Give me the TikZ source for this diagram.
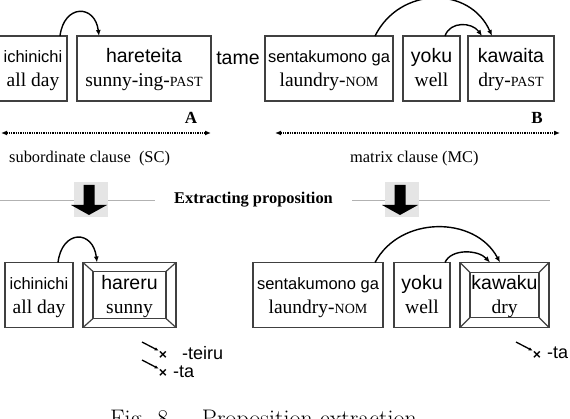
\documentclass[tikz,border=0pt]{standalone}
\usepackage{fontspec}
\usetikzlibrary{arrows.meta,calc}
\newfontfamily\romfont{Liberation Sans}
\newfontfamily\glfont{Liberation Serif}
\newcommand{\gsc}[1]{{\fontsize{14}{14}\selectfont #1}}
\newcommand{\smallrom}[1]{{\fontsize{16.5}{24}\selectfont #1}}
\newcommand{\topstrut}{\rule{0pt}{20pt}}
\newcommand{\botstrut}{\rule[-7pt]{0pt}{7pt}}
% picture frame round a word box: node, x inset, y inset
\newcommand{\bevel}[3]{%
  \draw[wordline] ($(#1.north west)+(#2,-#3)$) rectangle ($(#1.south east)+(-#2,#3)$);
  \draw[wordline] (#1.north west)--($(#1.north west)+(#2,-#3)$) (#1.north east)--($(#1.north east)+(-#2,-#3)$)
    (#1.south west)--($(#1.south west)+(#2,#3)$) (#1.south east)--($(#1.south east)+(-#2,#3)$);}

\begin{document}
\begin{tikzpicture}[x=1pt,y=1pt,>=Latex,
  wordline/.style={draw=black!75,line width=1.2pt},
  word/.style={wordline,inner sep=0pt,outer sep=0pt,minimum height=65pt,align=center,
    font=\romfont\fontsize{19.5}{24}\selectfont},
  link/.style={-{Latex[length=6pt,width=5pt]},line width=1.4pt},
  span/.style={densely dotted,line width=1.3pt,{Latex[length=6pt,width=5pt]}-{Latex[length=6pt,width=5pt]}},
  clause/.style={font=\glfont\fontsize{16.4}{18}\selectfont,anchor=west,inner sep=0pt},
  tag/.style={font=\glfont\bfseries\fontsize{17}{20}\selectfont,inner sep=0pt},
  rule/.style={draw=black!30,line width=0.9pt},
  shadebox/.style={fill=black!10,minimum width=34pt,minimum height=35pt,inner sep=0pt},
  cross/.style={font=\romfont\bfseries\fontsize{14}{14}\selectfont,inner sep=0pt},
  suffix/.style={font=\romfont\fontsize{18}{20}\selectfont,anchor=west,inner sep=0pt},
  tick/.style={-{Latex[length=4pt,width=3.5pt]},line width=1.3pt}]
\useasboundingbox (0,0) rectangle (570,-419);

% sentence with tame
\node[word,minimum width=68pt] (ichi1) at (33,-68.5) {\topstrut\smallrom{ichinichi}\\{\glfont all day}\botstrut};
\node[word,minimum width=134pt] (hare1) at (144,-68.5) {\topstrut hareteita\\{\glfont sunny-ing-\gsc{PAST}}\botstrut};
\node[font=\romfont\fontsize{19.5}{24}\selectfont] (tame) at (238,-58) {tame};
\node[word,minimum width=128pt] (sent1) at (329,-68.5) {\topstrut\smallrom{sentakumono ga}\\{\glfont laundry-\gsc{NOM}}\botstrut};
\node[word,minimum width=57pt] (yoku1) at (431.5,-68.5) {\topstrut yoku\\{\glfont well}\botstrut};
\node[word,minimum width=86pt] (kawa1) at (511,-68.5) {\topstrut kawaita\\{\glfont dry-\gsc{PAST}}\botstrut};
\draw[link] ($(ichi1.north)+(27,0)$) .. controls +(4,32) and +(-4,32) .. ($(hare1.north west)+(22,0)$);
\draw[link] ($(sent1.north)+(46,0)$) .. controls +(25,50) and +(-22,50) .. ($(kawa1.north)+(-19,0)$);
\draw[link] ($(yoku1.north)+(13.5,0)$) .. controls +(5,15) and +(-10,14) .. ($(kawa1.north)+(-29,0)$);

% clauses
\node[tag] (lblA) at (191,-118) {A};
\node[tag] (lblB) at (537,-118) {B};
\coordinate (scL) at (1,-133); \coordinate (scR) at (211,-133);
\coordinate (mcL) at (275,-133); \coordinate (mcR) at (560,-133);
\draw[span] (scL)--(scR);
\draw[span] (mcL)--(mcR);
\node[clause] (sc) at (9,-159) {subordinate clause\enspace(SC)};
\node[clause] (mc) at (350,-159) {matrix clause (MC)};

% extracting proposition
\node[font=\glfont\bfseries\fontsize{16.4}{18}\selectfont,inner xsep=19pt] (extract) at (253.5,-200) {Extracting proposition};
\coordinate (ruleL) at (0,-200); \coordinate (ruleR) at (550,-200);
\draw[rule] (ruleL)--(extract.west) (extract.east)--(ruleR);
\node[shadebox] (shadeL) at (91,-200) {};
\node[shadebox] (shadeR) at (402,-200) {};
\coordinate (downL) at (89,-185); \coordinate (downR) at (400,-185);
\fill (downL) ++(-5.5,0) -- ++(11,0) -- ++(0,-20) -- ++(12.5,0) -- ++(-18,-10) -- ++(-18,10) -- ++(12.5,0) -- cycle;
\fill (downR) ++(-5.5,0) -- ++(11,0) -- ++(0,-20) -- ++(12.5,0) -- ++(-18,-10) -- ++(-18,10) -- ++(12.5,0) -- cycle;

% propositions
\node[word,minimum width=68pt] (ichi2) at (39,-295) {\topstrut\smallrom{ichinichi}\\{\glfont all day}\botstrut};
\node[word,minimum width=93pt] (hare2) at (129.5,-295) {\topstrut hareru\\{\glfont sunny}\botstrut};
\bevel{hare2}{10}{9}
\node[word,minimum width=130pt] (sent2) at (318,-295) {\topstrut\smallrom{sentakumono ga}\\{\glfont laundry-\gsc{NOM}}\botstrut};
\node[word,minimum width=56pt] (yoku2) at (422,-295) {\topstrut yoku\\{\glfont well}\botstrut};
\node[word,minimum width=89pt] (kawa2) at (504.5,-295) {\topstrut kawaku\\{\glfont dry}\botstrut};
\bevel{kawa2}{10}{10}
\draw[link] ($(ichi2.north)+(19,0)$) .. controls +(4,33) and +(-4,33) .. ($(hare2.north west)+(14,0)$);
\draw[link] ($(sent2.north)+(57,0)$) .. controls +(25,47) and +(-25,47) .. ($(kawa2.north)+(-4.5,0)$);
\draw[link] ($(yoku2.north)+(23,0)$) .. controls +(6,14) and +(-12,13) .. ($(kawa2.north)+(-14.5,0)$);

% impossible suffixes
\node[cross] (x1) at (163,-355) {×};
\node[cross] (x2) at (163,-373) {×};
\node[cross] (x3) at (537,-355) {×};
\node[suffix] (teiru) at (182,-353) {-teiru};
\node[suffix] (ta1) at (173,-372) {-ta};
\node[suffix] (ta2) at (547,-353) {-ta};
\coordinate (t1) at (142,-342); \coordinate (t2) at (142,-360); \coordinate (t3) at (516,-342);
\draw[tick] (t1)--(x1.north west);
\draw[tick] (t2)--(x2.north west);
\draw[tick] (t3)--(x3.north west);

\node[font=\fontsize{24}{28}\selectfont,anchor=base west,inner sep=0pt] (cap) at (110,-426) {Fig. 8\hspace{1.4em}Proposition extraction};
\end{tikzpicture}
\end{document}
